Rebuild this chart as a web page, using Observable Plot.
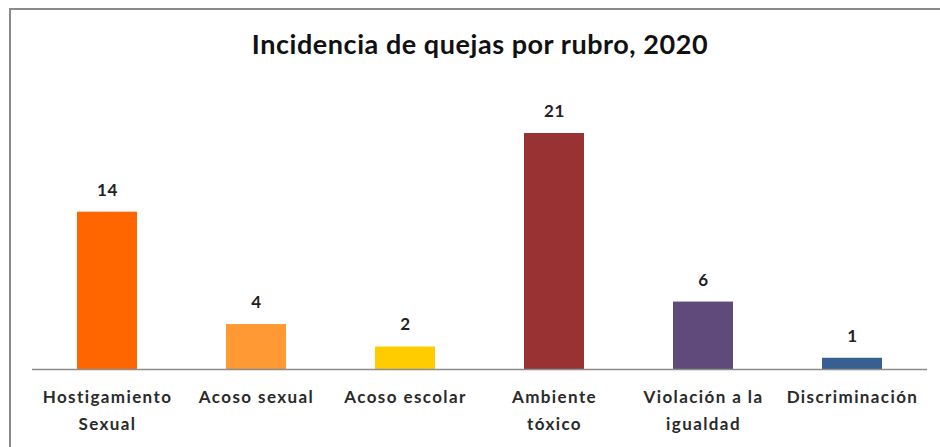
<!DOCTYPE html>
<html>
<head>
<meta charset="utf-8">
<script src="https://cdn.jsdelivr.net/npm/d3@7"></script>
<script src="https://cdn.jsdelivr.net/npm/@observablehq/plot@0.6"></script>
<style>
  html, body { margin: 0; padding: 0; background: #fff; }
  #wrap { position: relative; width: 940px; height: 447px; overflow: hidden; background: #fff; }
  #frame { position: absolute; left: 9px; top: 8px; width: 960px; height: 460px; border-left: 2px solid #8a8a8a; border-top: 2px solid #8a8a8a; box-sizing: border-box; }
  #title { position: absolute; left: 0; top: 27px; width: 960px; text-align: center; font-family: Lato, "Open Sans", sans-serif; font-weight: bold; font-size: 27px; letter-spacing: 0.55px; color: #111; }
  #chart { position: absolute; left: 0; top: 0; }
  #chart svg g[aria-label="x-axis tick label"] text { letter-spacing: 1.4px; }
  #chart svg g[aria-label="text"] text { letter-spacing: 0.6px; }
</style>
</head>
<body>
<div id="wrap">
  <div id="frame"></div>
  <div id="title">Incidencia de quejas por rubro, 2020</div>
  <div id="chart"></div>
</div>
<script>
const categories = ["Hostigamiento Sexual", "Acoso sexual", "Acoso escolar", "Ambiente tóxico", "Violación a la igualdad", "Discriminación"];
const tickLabels = ["Hostigamiento\nSexual", "Acoso sexual", "Acoso escolar", "Ambiente\ntóxico", "Violación a la\nigualdad", "Discriminación"];
const values = [14, 4, 2, 21, 6, 1];
const colors = ["#FF6600", "#FF9933", "#FFCC00", "#993333", "#604A7B", "#376092"];

const data = categories.map((c, i) => ({category: c, value: values[i], color: colors[i]}));
const labelOf = new Map(categories.map((c, i) => [c, tickLabels[i]]));

const chart = Plot.plot({
  width: 940,
  height: 447,
  marginLeft: 32,
  marginRight: 13,
  marginTop: 133,
  marginBottom: 78,
  style: {background: "transparent", fontFamily: "Lato, 'Open Sans', sans-serif"},
  x: {domain: categories, paddingInner: 0.6, paddingOuter: 0.3, label: null},
  y: {domain: [0, 21], axis: null, label: null},
  marks: [
    Plot.barY(data, {x: "category", y: "value", fill: "color"}),
    Plot.ruleY([0], {stroke: "#8c8c8c", strokeWidth: 1.5}),
    Plot.text(data, {x: "category", y: "value", text: d => String(d.value), dy: -22, fontSize: 17, fontWeight: "bold", fill: "#222"}),
    Plot.axisX({tickSize: 0, tickPadding: 15, fontSize: 17, fontWeight: "bold", fill: "#2a2a2a", lineHeight: 1.55, tickFormat: d => labelOf.get(d)})
  ]
});
document.getElementById("chart").appendChild(chart);
</script>
</body>
</html>
